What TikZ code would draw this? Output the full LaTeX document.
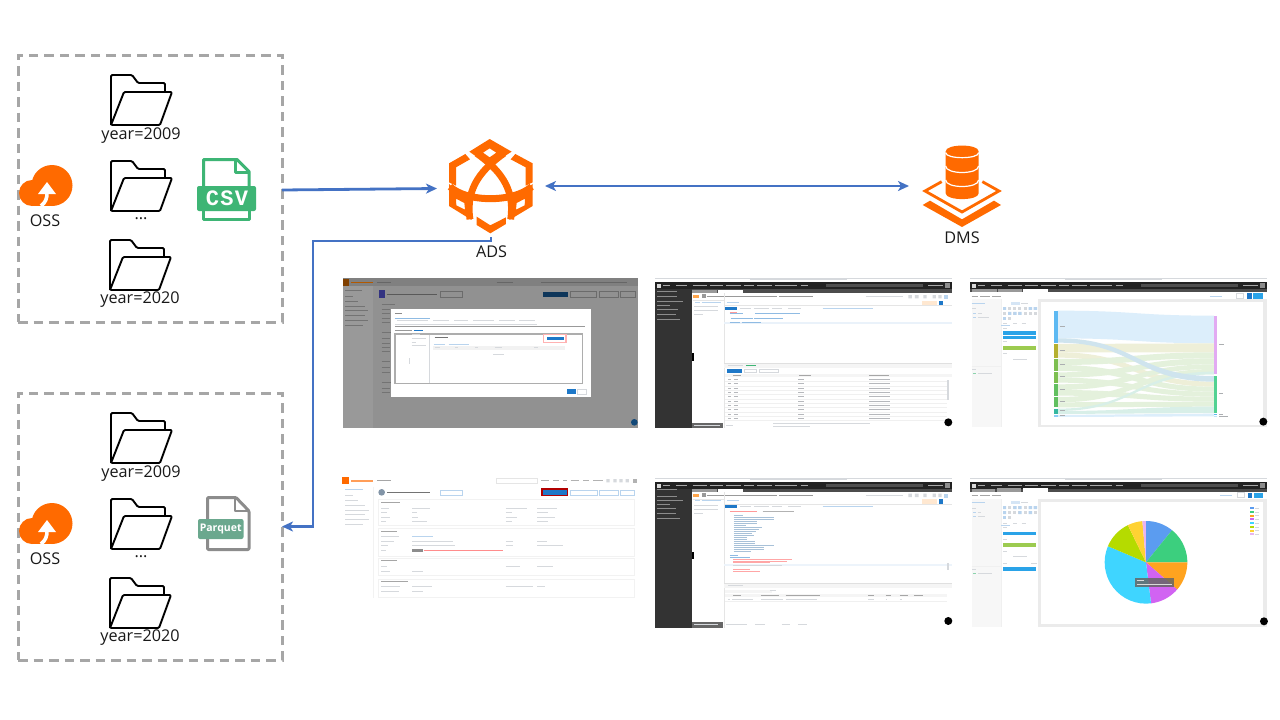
\documentclass[tikz,border=0pt]{standalone}
\usepackage{fontspec}
\setmainfont{Open Sans}
\newfontfamily\csvfont[LetterSpace=6]{Liberation Mono}
\usetikzlibrary{arrows.meta}
\definecolor{aliorange}{HTML}{FF6A00}
\definecolor{boxgray}{HTML}{A6A6A6}
\definecolor{linkblue}{HTML}{4472C4}
\definecolor{csvgreen}{HTML}{3EB575}
\definecolor{pqgreen}{HTML}{6BA88E}
\definecolor{pqgray}{HTML}{8C8C8C}
\definecolor{uiblue}{HTML}{1E78C8}
\definecolor{barg}{HTML}{D6D9DD}
\definecolor{barb}{HTML}{B9D4EE}
\definecolor{darkbar}{HTML}{222222}
\definecolor{darkside}{HTML}{333333}
\definecolor{flowblue}{HTML}{DCEEFB}
\definecolor{flowblue2}{HTML}{CFE4EE}
\definecolor{flowolive}{HTML}{EEEFD8}
\definecolor{flowgreen}{HTML}{E4F1DC}
\definecolor{flowteal}{HTML}{D8EFE8}
\definecolor{sankblue}{HTML}{5DB9F2}
\definecolor{sankolive}{HTML}{B5B030}
\definecolor{sankgreen}{HTML}{7DBF50}
\definecolor{sankgreenb}{HTML}{62C060}
\definecolor{sankteal}{HTML}{35B8A0}
\definecolor{sankviolet}{HTML}{E2AAF2}
\definecolor{sankmint}{HTML}{52D292}
\definecolor{pillblue}{HTML}{2AA3E8}
\definecolor{pillgreen}{HTML}{9CCB50}
\newcommand{\tbars}[2]{\foreach \xa/\xb/\yy in {#2}{\draw[#1,line width=1pt] (\xa,\yy)--(\xb,\yy);}}
\newcommand{\flowband}[5]{\fill[#5] (278,#1) .. controls (512,#1) and (512,#3) .. (747,#3) -- (747,#4) .. controls (512,#4) and (512,#2) .. (278,#2) -- cycle;}
\newcommand{\dmstop}{%
  \fill[white] (0,0) rectangle (905,460);
  \fill[darkbar] (15,20) rectangle (905,42);
  \tbars{barg}{300/590/13}
  \draw[barg,line width=.5pt] (15,9)--(905,9);
  \fill[white!85!black] (22,26) rectangle (34,38);
  \tbars{white!60!darkbar}{40/60/32,78/110/32,128/170/32,180/220/32,228/272/32,282/312/32,322/365/32,376/440/32,452/475/32}
  \fill[white!20!darkbar] (528,26) rectangle (820,37);
  \tbars{white!60!darkbar}{835/880/32}
  \fill[pqgray] (886,25) rectangle (900,38);
}
\tikzset{
  dashbox/.style={draw=boxgray,line width=3pt,dash pattern=on 9.5pt off 6pt,minimum width=264pt,minimum height=267pt,inner sep=0pt,outer sep=0pt},
  lbl/.style={inner sep=0pt,font=\fontsize{16.2}{18}\selectfont,text=black!90},
  iconarea/.style={inner sep=0pt,outer sep=0pt},
  link/.style={draw=linkblue,line width=2.8pt},
  tip/.style={-{Stealth[length=11pt,width=10pt,inset=3pt]}},
  tips/.style={{Stealth[length=11pt,width=10pt,inset=3pt]}-{Stealth[length=11pt,width=10pt,inset=3pt]}},
  folder/.pic={
    \draw[black,line width=1.9pt,line join=round,rounded corners=1.2pt] (0,50)--(0,0)--(21,0)--(27,8)--(54,8)--(54,17);
    \draw[black,line width=1.9pt,line join=round,rounded corners=1.2pt,fill=white] (0,50)--(13,17)--(61,17)--(49,50)--cycle;
  },
  oss/.pic={
    \fill[aliorange] (33,20.5) circle (20.5);
    \fill[aliorange] (13,28) circle (13);
    \fill[aliorange] (13,41)--(33,41)--(33,25)--(13,25)--cycle;
    \draw[white,line width=3.6pt] (28,28) .. controls (28,33) and (27,37) .. (22,41);
    \fill[white] (28,17)--(37,29)--(19,29)--cycle;
  }
}
\begin{document}
\begin{tikzpicture}[x=1pt,y=-1pt]
\useasboundingbox (0,0) rectangle (1280,720);
\fill[white] (0,0) rectangle (1280,720);

% source boxes
\node[dashbox] (box1) at (150,188.5) {};
\node[dashbox] (box2) at (150,526.5) {};

% folders and labels, top
\pic at (111,75) {folder};
\pic at (111,161) {folder};
\pic at (110,240) {folder};
\node[lbl] (y1) at (141,136) {year=2009};
\node[lbl] (d1) at (141,219) {...};
\node[lbl] (y2) at (140,300) {year=2020};
% folders and labels, bottom
\pic at (111,413) {folder};
\pic at (111,499) {folder};
\pic at (110,578) {folder};
\node[lbl] (y3) at (141,474) {year=2009};
\node[lbl] (d2) at (141,557) {...};
\node[lbl] (y4) at (140,638) {year=2020};

% OSS
\pic at (19,165) {oss};
\node[lbl] (oss1) at (45,221) {OSS};
\pic at (19,503) {oss};
\node[lbl] (oss2) at (45,559) {OSS};

% CSV icon
\begin{scope}[shift={(197,157)}]
  \draw[csvgreen,line width=3pt,line join=round] (6.5,30)--(6.5,2.5)--(40,2.5)--(52,14.5)--(52,30);
  \draw[csvgreen,line width=3pt,line join=round] (38.5,2.5)--(38.5,15)--(52,15);
  \draw[csvgreen,line width=3pt,line join=round] (6.5,52)--(6.5,62.5)--(52,62.5)--(52,52);
  \fill[csvgreen,rounded corners=2pt] (0,29) rectangle (59,54);
  \node[inner sep=0pt,text=white] (csvtext) at (30,41.5) {\csvfont\bfseries\fontsize{22}{22}\selectfont CSV};
\end{scope}

% Parquet icon
\draw[pqgray,line width=3pt,line join=round,rounded corners=1pt] (207.5,519)--(207.5,497.5)--(236,497.5)--(249,511)--(249,549.5)--(207.5,549.5)--(207.5,539);
\draw[pqgray,line width=2.5pt,line join=round] (235,497.5)--(235,511)--(249,511);
\fill[pqgreen,rounded corners=2pt] (198,519) rectangle (243.5,539);
\node[inner sep=0pt,text=white] (pqtext) at (220.7,529) {\bfseries\fontsize{10.5}{12}\selectfont Parquet};

% ADS icon
\node[iconarea,minimum width=108pt,minimum height=100pt] (adsicon) at (491,187) {};
\begin{scope}[shift={(420,130)},x=.3333pt,y=-.3333pt]
  \fill[aliorange,even odd rule] (209,27)--(275,65)--(209,108)--(148,65)--cycle (209,55)--(229,68)--(209,82)--(189,68)--cycle;
  \fill[aliorange] (136,72)--(87,100)--(87,157)--(108,167)--(108,112)--(150,88)--cycle;
  \fill[aliorange] (286,72)--(338,100)--(338,157)--(317,167)--(317,112)--(272,88)--cycle;
  \fill[aliorange,even odd rule] (87,162)--(87,228)--(155,270)--(145,192)--(120,190)--cycle (108,206)--(133,219)--(135,239)--(109,226)--cycle;
  \fill[aliorange,even odd rule] (338,162)--(338,228)--(268,270)--(278,192)--(303,190)--cycle (315,206)--(290,219)--(288,239)--(314,226)--cycle;
  \draw[aliorange,line width=7pt] (90,170) .. controls (140,218) and (282,218) .. (335,170);
  \draw[aliorange,line width=6.8pt] (252,70) .. controls (190,115) and (135,170) .. (150,268);
  \draw[aliorange,line width=6.8pt] (170,70) .. controls (232,115) and (287,170) .. (272,268);
  \fill[aliorange] (170,260)--(211,286)--(258,262)--(258,282)--(211,310)--(170,285)--cycle;
\end{scope}
\node[lbl] (adslabel) at (491.5,252) {ADS};

% DMS icon
\node[iconarea,minimum width=104pt,minimum height=90pt] (dmsicon) at (961,186) {};
\begin{scope}[shift={(900,130)},x=.3333pt,y=-.3333pt]
  \draw[aliorange,line width=2.8pt,line join=miter] (125,155)--(75,183)--(186,246)--(297,183)--(247,155);
  \fill[aliorange] (90,212)--(186,268)--(282,212)--(303,225)--(186,291)--(68,225)--cycle;
  \fill[aliorange] (137,64)--(137,190) .. controls (137,213) and (236,213) .. (236,190) -- (236,64) .. controls (236,41) and (137,41) .. (137,64) -- cycle;
  \draw[white,line width=1.2pt] (137,68) .. controls (137,88) and (236,88) .. (236,68);
  \draw[white,line width=1.2pt] (137,108) .. controls (137,134) and (236,134) .. (236,108);
  \draw[white,line width=1.2pt] (137,150) .. controls (137,176) and (236,176) .. (236,150);
\end{scope}
\node[lbl] (dmslabel) at (962,238) {DMS};

% connectors
\coordinate (elbow) at (313,241);
\draw[link,tip] ([yshift=-1.5pt]box1.east) -- ([yshift=-1.5pt]adsicon.west);
\draw[link,tips] ([yshift=1pt]adsicon.east) -- (dmsicon.west);
\draw[link,tip,line width=2.4pt] (adsicon.south) |- (elbow) |- (box2.east);

% ---------- screenshot A
\begin{scope}[shift={(340,275)},x=.3333pt,y=-.3333pt]
  \fill[black!43] (8,10) rectangle (895,460);
  \fill[black!50] (8,10) rectangle (895,33);
  \fill[black!40] (8,33) rectangle (100,460);
  \fill[black!50!orange] (8,12) rectangle (28,32);
  \tbars{black!30!orange}{33/100/22}
  \tbars{black!60}{112/152/22,470/520/22,604/860/22}
  \fill[black!62!blue!80!white] (117,45) rectangle (135,68);
  \tbars{black!65}{140/290/58}
  \tbars{black!55}{15/65/47,15/40/63,15/55/78,15/75/93,15/85/108,15/75/123,15/85/138,15/70/153,125/165/88,125/150/103,125/150/116,125/150/130,125/150/143,125/165/172,125/150/190,125/150/205,125/150/217,125/150/230,125/150/260,125/150/278,125/150/293,125/165/323,125/150/340,125/150/353}
  \fill[uiblue!45!black] (608,50) rectangle (685,66);
  \draw[black!58] (692,50) rectangle (770,66) (778,50) rectangle (835,66) (840,50) rectangle (885,66) (302,50) rectangle (367,66);
  \fill[uiblue!60!black] (883,442) circle (10);
  \fill[white] (153,103) rectangle (752,365);
  \tbars{black!45}{165/187/117}
  \draw[black!32,line width=1.6pt] (165,177) rectangle (728,325);
  \fill[white] (167,179) rectangle (726,323);
  \tbars{barg}{172/265/137,280/328/137,343/385/137,400/463/137,478/525/137,538/585/137}
  \draw[uiblue!50,line width=.8pt] (165,130)--(270,130);
  \draw[barg] (165,147)--(590,147);
  \tbars{black!40}{165/262/155,262/735/155,165/215/168}
  \tbars{uiblue}{222/250/168,280/310/214}
  \tbars{barg}{215/240/180,215/258/191,215/228/202,215/258/212}
  \draw[barg] (268,179)--(268,323);
  \tbars{black!55}{284/325/189}
  \tbars{barb}{282/316/208,326/386/208}
  \fill[black!5] (280,214) rectangle (675,225);
  \tbars{barg}{284/300/219,345/355/219,405/415/219,464/485/219,583/595/219,460/492/240}
  \draw[barg,line width=1pt] (210,250)--(210,268);
  \fill[red!30] (608,178) rectangle (680,205);
  \fill[white] (612,181) rectangle (676,201);
  \fill[uiblue] (622,185) rectangle (672,194);
  \fill[uiblue] (680,343) rectangle (708,357);
  \draw[barg] (713,343) rectangle (740,357);
\end{scope}

% ---------- screenshot D
\begin{scope}[shift={(340,475)},x=.3333pt,y=-.3333pt]
  \fill[white] (8,4) rectangle (895,452);
  \fill[aliorange] (5,5) rectangle (28,28);
  \draw[aliorange!65,line width=1.8pt] (33,17)--(100,17);
  \tbars{black!35}{112/152/17}
  \draw[black!10] (468,10) rectangle (592,24);
  \tbars{black!30}{604/628/17,640/656/17,670/680/17,692/718/17,730/748/17,760/790/17}
  \fill[barg] (799,12) rectangle (809,22) (820,12) rectangle (830,22) (838,12) rectangle (848,22) (857,12) rectangle (867,22);
  \fill[black!30] (880,11) rectangle (892,23);
  \fill[barb!70!black] (125,52) circle (10);
  \draw[black!55,line width=1.5pt] (142,52)--(270,52);
  \draw[barb,line width=.7pt] (300,45) rectangle (366,60) (692,45) rectangle (772,60) (778,45) rectangle (834,60) (840,45) rectangle (882,60);
  \fill[red!70!black] (604,40) rectangle (685,63);
  \fill[uiblue] (608,44) rectangle (681,59);
  \draw[black!5,line width=.4pt] (100,35)--(100,370) (115,72) rectangle (882,152) (115,160) rectangle (882,245) (115,250) rectangle (882,302) (115,312) rectangle (882,366);
  \tbars{barb}{15/70/44}
  \tbars{barg}{15/40/60,15/55/75,15/75/90,15/88/105,15/75/119,15/88/134,15/70/149}
  \tbars{black!35}{124/180/82,124/170/169,124/170/257,124/205/319}
  \tbars{barg}{124/148/100,124/140/113,124/150/126,124/138/139,217/270/100,217/232/113,217/235/126,217/260/139,498/560/100,498/515/113,498/530/126,498/515/139,592/650/100,592/625/113,592/645/126,592/625/139,124/178/185,124/162/199,124/145/213,124/138/227,217/340/199,217/345/213,498/520/199,498/520/213,592/620/199,592/670/213,124/140/274,124/150/289,217/250/289,498/540/274,592/640/274,124/180/336,124/178/349,217/275/336,217/250/349,498/580/336,592/615/336}
  \tbars{barb}{217/278/185}
  \fill[black!45] (217,222) rectangle (248,232);
  \tbars{red!45}{252/490/227}
\end{scope}

% ---------- screenshot B
\begin{scope}[shift={(650,275)},x=.3333pt,y=-.3333pt]
  \dmstop
  \fill[darkside] (15,42) rectangle (125,460);
  \fill[black!70] (125,42) rectangle (905,54);
  \fill[black!40] (127,44) rectangle (200,54);
  \fill[white] (205,44) rectangle (278,54);
  \tbars{white!55!black}{22/80/50,22/80/65,22/100/80,22/60/92,22/85/105,22/78/120,22/90/134}
  \fill[black] (125,235) rectangle (133,258);
  \fill[black!60] (126,445) rectangle (220,460);
  \fill[orange!70!white] (130,59) rectangle (148,68);
  \fill[black!40] (155,58) rectangle (167,69);
  \tbars{black!40}{170/380/64,388/490/64}
  \tbars{barg}{648/760/65}
  \fill[barg] (775,60) rectangle (786,70) (795,60) rectangle (806,70) (820,60) rectangle (830,70) (848,60) rectangle (858,70) (865,60) rectangle (875,70);
  \fill[barb] (882,60) rectangle (893,72);
  \fill[orange!18] (816,78) rectangle (862,91);
  \fill[uiblue] (868,78) rectangle (880,91);
  \draw[black!10] (128,76)--(222,76) (222,55)--(222,460) (222,92)--(905,92);
  \tbars{barb}{135/150/82,155/212/82,232/268/82}
  \tbars{barg}{132/205/95,132/205/108,132/160/118}
  \fill[uiblue] (226,95) rectangle (262,106);
  \tbars{barg}{270/302/100,312/358/100,367/395/100,415/452/100}
  \tbars{barb}{518/668/100}
  \tbars{uiblue!50}{240/280/115,315/450/115,242/310/131,312/400/131,290/330/144}
  \tbars{red!40}{240/262/113}
  \fill[barb!30] (222,140) rectangle (905,147);
  \tbars{uiblue!50}{240/270/144,275/332/144}
  \draw[black!12] (222,265)--(905,265);
  \fill[black!4] (222,266) rectangle (905,280);
  \tbars{barg}{235/280/273}
  \tbars{csvgreen}{288/318/273}
  \fill[uiblue] (232,283) rectangle (275,293);
  \draw[barg] (282,283) rectangle (320,293) (328,283) rectangle (385,293);
  \fill[black!4] (225,297) rectangle (905,306);
  \tbars{black!35}{250/272/302,448/482/302,658/718/302}
  \foreach \rowy in {314,327,340,353,366,379,392,405,418,431}{
    \draw[black!6] (225,\rowy+6)--(890,\rowy+6);
    \tbars{barg!85!black}{235/242/\rowy,252/264/\rowy,445/462/\rowy,658/720/\rowy}
  }
  \fill[barg] (892,316) rectangle (898,375);
  \tbars{barg}{370/660/447,370/480/454,228/250/451,132/210/451}
  \fill[black] (895,442) circle (12);
\end{scope}

% ---------- screenshot E
\begin{scope}[shift={(650,475)},x=.3333pt,y=-.3333pt]
  \dmstop
  \fill[darkside] (15,42) rectangle (125,460);
  \fill[black!70] (125,42) rectangle (905,51);
  \fill[black!40] (127,43) rectangle (200,51);
  \fill[white] (205,43) rectangle (278,51);
  \tbars{white!55!black}{20/80/44,20/80/63,20/100/77,20/60/88,20/78/100,20/78/115,20/90/130}
  \fill[black] (125,230) rectangle (133,253);
  \fill[black!60] (126,442) rectangle (220,460);
  \fill[orange!70!white] (130,56) rectangle (148,65);
  \fill[black!40] (155,55) rectangle (167,66);
  \tbars{black!40}{170/380/60,388/490/60}
  \tbars{barg}{648/760/61}
  \fill[barg] (775,56) rectangle (786,66) (795,56) rectangle (806,66) (820,56) rectangle (830,66) (848,56) rectangle (858,66) (865,56) rectangle (875,66);
  \fill[barb] (882,56) rectangle (893,68);
  \fill[orange!18] (816,73) rectangle (862,86);
  \fill[uiblue] (868,73) rectangle (880,86);
  \draw[black!10] (128,72)--(222,72) (222,52)--(222,460) (222,88)--(905,88);
  \tbars{barb}{135/150/77,155/212/77,232/268/77}
  \tbars{barg}{132/205/90,132/205/103,132/160/114}
  \fill[uiblue] (226,90) rectangle (262,100);
  \tbars{barg}{270/302/95,312/358/95,367/395/95,415/452/95}
  \tbars{barb}{518/668/95}
  \tbars{red!40}{240/322/108}
  \tbars{black!30}{338/432/108}
  \foreach \rowy/\rowe in {120/280,127/372,133/372,139/322,146/320,152/287,158/337,164/327,170/317,176/307,182/312,188/292,194/292,200/314,206/314,212/372,218/342,225/342,231/302}{
    \draw[barg!75!uiblue,line width=1pt] (252,\rowy)--(\rowe,\rowy);
  }
  \tbars{uiblue!50}{240/265/242,240/300/248}
  \tbars{red!35}{250/425/254,250/410/259,250/360/264,250/395/270,250/300/284,250/330/290}
  \fill[barb!25] (222,268) rectangle (905,274);
  \tbars{barg}{250/395/271}
  \draw[black!12] (222,325)--(905,325);
  \fill[black!4] (222,326) rectangle (905,340);
  \tbars{barg}{235/280/333}
  \fill[black!4] (226,344) rectangle (365,354);
  \tbars{barg}{360/378/348}
  \fill[black!4] (225,357) rectangle (890,367);
  \tbars{black!35}{250/272/361,333/388/361,407/510/361,655/672/361,708/722/361,750/775/361,792/820/361}
  \tbars{barg}{247/310/374,333/400/374,407/500/374,655/672/374,708/712/374,750/757/374,235/240/374}
  \draw[black!6] (225,380)--(890,380);
  \tbars{barg}{315/345/448,395/420/448,445/470/448,228/290/448,132/205/448}
  \fill[barg] (892,265) rectangle (898,285);
  \fill[black] (895,438) circle (12);
\end{scope}

% ---------- screenshot C
\begin{scope}[shift={(965,275)},x=.3333pt,y=-.3333pt]
  \dmstop
  \fill[black!70] (15,42) rectangle (905,52);
  \fill[black!40] (20,43) rectangle (95,52);
  \fill[black!40] (100,43) rectangle (170,52);
  \fill[white] (175,43) rectangle (248,52);
  \tbars{black!35}{20/38/64,45/75/64,82/108/64}
  \tbars{barb}{735/770/63}
  \draw[barg] (815,55) rectangle (835,71);
  \fill[uiblue] (845,55) rectangle (860,71);
  \fill[pillblue] (865,55) rectangle (893,71);
  \fill[black!3] (20,72) rectangle (108,455);
  \draw[black!6] (110,72)--(110,455) (20,275)--(108,275);
  \tbars{barb}{20/60/84}
  \tbars{barg}{22/32/102,22/32/285}
  \tbars{barb}{24/34/116,24/34/127}
  \tbars{barg}{38/50/116,38/72/127}
  \tbars{csvgreen!60}{24/34/297}
  \tbars{barg}{38/82/297}
  \fill[barb!60] (138,80) rectangle (165,90);
  \tbars{barg}{168/190/85}
  \foreach \colx in {114,129,145,160,176,191,206}{
    \fill[barg] (\colx,96) rectangle (\colx+9,105);
    \fill[barg] (\colx,111) rectangle (\colx+9,120);
  }
  \fill[barb] (114,96) rectangle (123,105) (129,111) rectangle (139,120) (145,111) rectangle (155,120) (160,111) rectangle (170,120) (191,96) rectangle (201,105) (206,96) rectangle (216,105);
  \fill[barb] (114,126) rectangle (123,135);
  \fill[barg] (129,126) rectangle (138,135);
  \tbars{barg}{114/126/146,144/155/146,170/182/146,114/125/160,114/125/200,114/125/237}
  \draw[barb] (108,152)--(136,152);
  \fill[pillblue] (115,168) rectangle (214,179);
  \fill[pillblue] (115,182) rectangle (214,193);
  \fill[pillgreen] (115,213) rectangle (214,225);
  \tbars{barg}{145/185/254}
  \fill[black!8] (220,72) rectangle (905,455);
  \fill[white] (228,80) rectangle (895,450);
  % sankey
  \flowband{107}{190}{122}{205}{flowblue}
  \flowband{207}{232}{205}{232}{flowolive}
  \flowband{232}{248}{320}{335}{flowolive}
  \flowband{252}{270}{232}{250}{flowgreen}
  \flowband{270}{288}{335}{350}{flowgreen}
  \flowband{292}{308}{250}{268}{flowgreen}
  \flowband{308}{323}{350}{365}{flowgreen}
  \flowband{328}{345}{268}{282}{flowgreen}
  \flowband{345}{362}{365}{380}{flowgreen}
  \flowband{366}{382}{282}{298}{flowgreen}
  \flowband{382}{397}{380}{395}{flowgreen}
  \flowband{401}{408}{290}{298}{flowteal}
  \flowband{408}{417}{395}{414}{flowteal}
  \flowband{420}{426}{416}{424}{flowblue}
  \flowband{190}{203}{303}{320}{flowblue2}
  \fill[sankblue] (268,107) rectangle (278,203);
  \fill[sankolive] (268,207) rectangle (278,248);
  \fill[sankgreen] (268,252) rectangle (278,288);
  \fill[sankgreen] (268,292) rectangle (278,323);
  \fill[sankgreenb] (268,328) rectangle (278,362);
  \fill[sankgreenb] (268,366) rectangle (278,397);
  \fill[sankteal] (268,401) rectangle (278,417);
  \fill[sankblue!70] (268,420) rectangle (278,426);
  \fill[sankviolet] (747,122) rectangle (757,298);
  \fill[sankmint] (747,303) rectangle (757,414);
  \fill[sankblue] (747,416) rectangle (757,421);
  \fill[sankblue!40] (747,422) rectangle (757,426);
  \tbars{barg!80!black}{285/300/155,285/300/228,285/300/269,285/300/306,285/300/344,285/300/380,285/300/408,285/300/422,763/777/210,763/775/357,763/775/418,763/790/424}
  \fill[black] (895,440) circle (12);
\end{scope}

% ---------- screenshot F
\begin{scope}[shift={(965,475)},x=.3333pt,y=-.3333pt]
  \dmstop
  \fill[black!70] (15,42) rectangle (905,52);
  \fill[black!40] (20,43) rectangle (90,50);
  \fill[black!40] (96,40) rectangle (168,50);
  \fill[white] (175,38) rectangle (248,50);
  \tbars{black!35}{20/38/62,45/75/62,82/108/62}
  \tbars{barb}{765/802/60}
  \draw[barg] (818,53) rectangle (838,68);
  \fill[uiblue] (848,53) rectangle (862,68);
  \fill[pillblue] (867,53) rectangle (895,68);
  \fill[black!3] (20,72) rectangle (108,455);
  \draw[black!6] (110,72)--(110,455) (20,275)--(108,275);
  \tbars{barb}{20/60/81}
  \tbars{barg}{22/32/100,22/32/283}
  \tbars{barb}{24/34/113,24/34/124}
  \tbars{barg}{38/48/113,38/60/124}
  \tbars{csvgreen!60}{24/34/295}
  \tbars{barg}{38/82/295}
  \fill[barb!60] (138,77) rectangle (165,86);
  \tbars{barg}{168/190/81}
  \foreach \colx in {114,129,145,160,176,191,206}{
    \fill[barg] (\colx,93) rectangle (\colx+9,102);
    \fill[barg] (\colx,108) rectangle (\colx+9,117);
  }
  \fill[barb] (114,93) rectangle (123,102) (145,93) rectangle (155,102) (160,93) rectangle (170,102) (191,93) rectangle (201,102) (206,93) rectangle (216,102) (114,108) rectangle (123,117) (160,108) rectangle (170,117) (191,108) rectangle (201,117);
  \fill[barb] (114,123) rectangle (123,132);
  \fill[barg] (129,123) rectangle (138,132);
  \tbars{barg}{114/126/144,144/155/144,170/182/144,114/125/158,114/125/194,114/125/230,114/125/265,198/216/265}
  \draw[barb] (108,150)--(136,150);
  \fill[pillblue] (115,170) rectangle (214,181);
  \fill[pillgreen] (115,205) rectangle (214,217);
  \tbars{barg}{145/185/246}
  \fill[pillblue] (115,276) rectangle (214,287);
  \fill[black!8] (220,72) rectangle (905,455);
  \fill[white] (228,80) rectangle (895,447);
  % pie, centre (543,262), radius 124; angles clockwise from the top
  \foreach \angA/\angB/\hexC in {0/39/5B9CF0,39/90/3CCF7E,90/131/FFA31F,131/173/D163F2,173/293/3FD5FF,293/334/B5DB00,334/355/FFD233,355/360/E8B4F0}{
    \definecolor{slice}{HTML}{\hexC}
    \fill[slice] (543,262)
      \foreach \stepn in {0,...,16}{ -- ({543+124*sin(\angA+(\angB-\angA)*\stepn/16)},{262-124*cos(\angA+(\angB-\angA)*\stepn/16)}) } -- cycle;
  }
  \fill[black!60,opacity=.85] (510,310) rectangle (626,335);
  \tbars{white!85!black}{515/536/318,515/620/328}
  \foreach \rowy/\hexC in {100/5B9CF0,111/3CCF7E,122/FFA31F,133/D163F2,144/3FD5FF,156/B5DB00,167/FFD233,178/E8B4F0}{
    \definecolor{slice}{HTML}{\hexC}
    \fill[slice] (854,\rowy-3) rectangle (866,\rowy+3);
    \draw[barg,line width=1pt] (870,\rowy)--(882,\rowy);
  }
  \fill[black] (897,439) circle (12);
\end{scope}
\end{tikzpicture}
\end{document}
